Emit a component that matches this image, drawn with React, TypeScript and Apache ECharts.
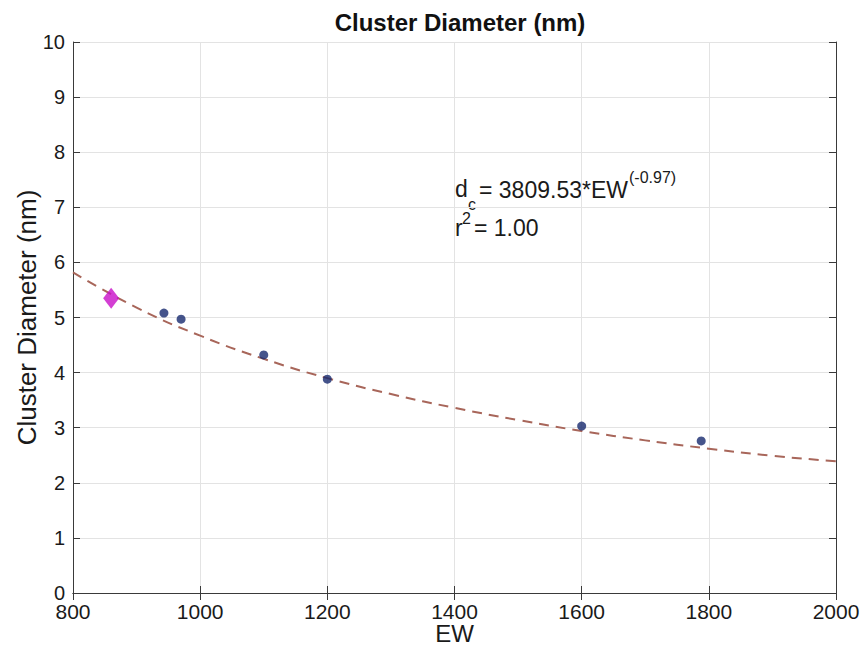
import React, { useEffect, useRef } from "react";
import * as echarts from "echarts";

const measuredEW = [943, 970, 1100, 1200, 1600, 1788];
const measuredDiameter = [5.08, 4.97, 4.32, 3.88, 3.03, 2.76];
const predictedEW = [860];
const predictedDiameter = [5.35];
const fitEW = [800, 900, 1000, 1100, 1200, 1300, 1400, 1500, 1600, 1700, 1800, 1900, 2000];
const fitDiameter = [5.82, 5.18, 4.67, 4.25, 3.9, 3.61, 3.36, 3.14, 2.94, 2.77, 2.62, 2.49, 2.39];

const FONT = "'Liberation Sans', Arial, Helvetica, sans-serif";
const TXT = "#1a1a1a";

function label(text: string, x: number, y: number, size: number) {
  return {
    type: "text",
    x,
    y,
    style: {
      text,
      fontFamily: FONT,
      fontSize: size,
      fill: TXT,
      textAlign: "left",
      textVerticalAlign: "middle",
    },
  };
}

export default function App() {
  const ref = useRef<HTMLDivElement>(null);
  useEffect(() => {
    if (!ref.current) return;
    const chart = echarts.init(ref.current, undefined, { renderer: "svg" });
    const axisCommon = {
      axisLine: { show: true, lineStyle: { color: "#3a3a3a", width: 1 } },
      axisTick: { show: true, inside: true, length: 7, lineStyle: { color: "#3a3a3a" } },
    };
    chart.setOption({
      animation: false,
      backgroundColor: "#fff",
      textStyle: { fontFamily: FONT },
      title: {
        text: "Cluster Diameter (nm)",
        left: 455,
        top: 5,
        textAlign: "center",
        textStyle: { fontFamily: FONT, fontSize: 24, fontWeight: "bold", color: "#111" },
      },
      grid: {
        left: 73,
        right: 26,
        top: 42,
        bottom: 53,
        containLabel: false,
        outerBoundsMode: "none",
      },
      xAxis: [
        {
          type: "value",
          min: 800,
          max: 2000,
          interval: 200,
          name: "EW",
          nameLocation: "middle",
          nameGap: 28,
          nameMoveOverlap: false,
          nameTextStyle: { fontFamily: FONT, fontSize: 24, lineHeight: 24, color: TXT },
          ...axisCommon,
          axisLabel: {
            fontFamily: FONT,
            fontSize: 21,
            color: TXT,
            margin: 10,
            lineHeight: 16,
            formatter: (v: number) => String(v),
          },
          splitLine: { show: true, lineStyle: { color: "#e3e3e3" } },
        },
        {
          type: "value",
          position: "top",
          min: 800,
          max: 2000,
          interval: 200,
          ...axisCommon,
          axisLabel: { show: false },
          splitLine: { show: false },
        },
      ],
      yAxis: [
        {
          type: "value",
          min: 0,
          max: 10,
          interval: 1,
          name: "Cluster Diameter (nm)",
          nameLocation: "middle",
          nameGap: 33,
          nameMoveOverlap: false,
          nameTextStyle: { fontFamily: FONT, fontSize: 26, color: TXT },
          ...axisCommon,
          axisLabel: { fontFamily: FONT, fontSize: 20, color: TXT, margin: 8, lineHeight: 16 },
          splitLine: { show: true, lineStyle: { color: "#e3e3e3" } },
        },
        {
          type: "value",
          position: "right",
          min: 0,
          max: 10,
          interval: 1,
          ...axisCommon,
          axisLabel: { show: false },
          splitLine: { show: false },
        },
      ],
      graphic: [
        label("d", 455, 189, 23),
        label("c", 468, 204, 16),
        label("= 3809.53*EW", 479, 190, 23),
        label("(-0.97)", 629, 177, 16),
        label("r", 455, 228, 23),
        label("2", 462, 218, 16),
        label("= 1.00", 474, 228, 23),
      ],
      series: [
        {
          type: "line",
          data: fitEW.map((x, i) => [x, fitDiameter[i]]),
          smooth: true,
          symbol: "none",
          lineStyle: { color: "#a8665a", width: 2, type: [10, 7] },
          z: 2,
        },
        {
          type: "scatter",
          data: measuredEW.map((x, i) => [x, measuredDiameter[i]]),
          symbol: "circle",
          symbolSize: 9,
          itemStyle: { color: "#16296e" },
          z: 3,
        },
        {
          type: "scatter",
          data: predictedEW.map((x, i) => [x, predictedDiameter[i]]),
          symbol: "diamond",
          symbolSize: [16, 21],
          itemStyle: { color: "#c80fc8" },
          z: 4,
        },
      ],
    });
    return () => chart.dispose();
  }, []);
  return (
    <div
      ref={ref}
      style={{ position: "fixed", left: 0, top: 0, width: 862, height: 646 }}
    />
  );
}
